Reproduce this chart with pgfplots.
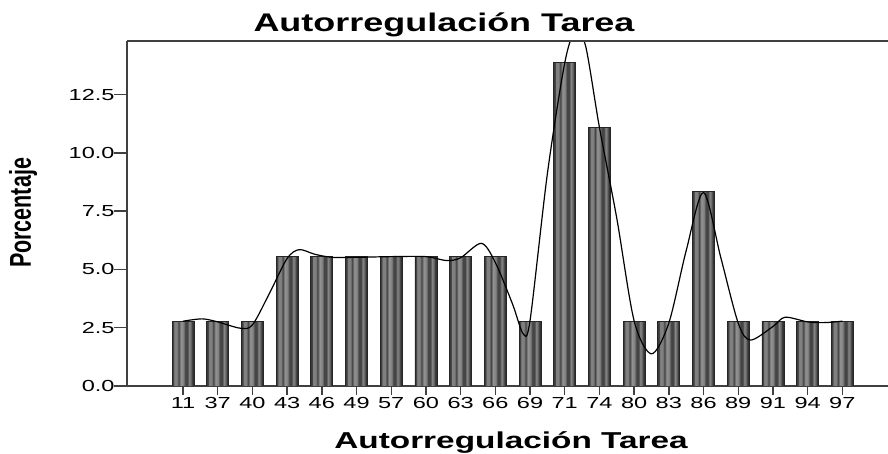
\documentclass[border=0pt]{standalone}
\usepackage{fontspec}
\setmainfont{Liberation Sans}
\newfontfamily\tickfont[FakeStretch=1.47]{Liberation Sans}
\newfontfamily\titlefont[FakeStretch=1.41]{Liberation Sans}
\newfontfamily\xlabfont[FakeStretch=1.45]{Liberation Sans}
\usepackage{graphicx}
\usepackage{pgfplots}
\pgfplotsset{compat=1.18}
\definecolor{axiscol}{gray}{0.25}
\definecolor{g20}{gray}{0.18}
\definecolor{g25}{gray}{0.22}
\definecolor{g30}{gray}{0.27}
\definecolor{g45}{gray}{0.40}
\definecolor{g55}{gray}{0.50}
\definecolor{g58}{gray}{0.53}
\definecolor{g60}{gray}{0.58}
\pgfdeclarehorizontalshading{barstripes}{100bp}{color(0bp)=(g25); color(25bp)=(g25); color(28bp)=(g30); color(30bp)=(g55); color(36bp)=(g55); color(40bp)=(g30); color(45bp)=(g60); color(51bp)=(g55); color(55bp)=(g30); color(60bp)=(g30); color(64bp)=(g58); color(68bp)=(g45); color(71bp)=(g25); color(75bp)=(g20); color(100bp)=(g20)}
\pgfplotstableread{
x y
0 2.78
0.55 2.88
1 2.75
1.65 2.48
2 2.62
2.5 4.0
3 5.47
3.35 5.85
3.8 5.65
4.3 5.52
5 5.52
6 5.55
7 5.55
7.6 5.38
8 5.5
8.6 6.12
9 5.3
9.5 3.5
9.8 2.25
10 2.8
10.5 9.1
11 13.85
11.3 15.2
11.6 14.6
12 11.1
12.5 7.2
13 2.8
13.5 1.38
14 2.7
14.5 5.8
15 8.3
15.5 5.5
16 2.7
16.35 1.97
17 2.55
17.35 2.95
18 2.75
18.5 2.72
19 2.78
}\curve
\begin{document}
\begin{tikzpicture}
\path[use as bounding box] (0,0) rectangle (888bp,454bp);
\begin{axis}[
  at={(127bp,68bp)}, anchor=south west,
  scale only axis, width=761bp, height=345bp,
  xmin=-1.614, xmax=20.317, ymin=0, ymax=14.8,
  axis lines=left,
  axis line style={-, axiscol, line width=1.6bp},
  tick align=outside,
  major tick length=9bp,
  tick style={axiscol, line width=1.4bp},
  ytick style={/pgfplots/major tick length=13bp},
  xtick={0,...,19},
  xticklabels={11,37,40,43,46,49,57,60,63,66,69,71,74,80,83,86,89,91,94,97},
  ytick={0,2.5,5,7.5,10,12.5},
  /pgf/number format/assume math mode=true,
  ticklabel style={font=\tickfont\fontsize{16bp}{17bp}\selectfont, text=black},
  yticklabel style={/pgf/number format/.cd, fixed, fixed zerofill, precision=1},
  xticklabel style={yshift=1bp},
  barsty/.style={ybar, bar width=22bp, bar shift=0pt, draw=black!85, line width=0.7bp, shade, shading=barstripes},
]
\addplot[barsty] coordinates {(0,2.78)};
\addplot[barsty] coordinates {(1,2.78)};
\addplot[barsty] coordinates {(2,2.78)};
\addplot[barsty] coordinates {(3,5.56)};
\addplot[barsty] coordinates {(4,5.56)};
\addplot[barsty] coordinates {(5,5.56)};
\addplot[barsty] coordinates {(6,5.56)};
\addplot[barsty] coordinates {(7,5.56)};
\addplot[barsty] coordinates {(8,5.56)};
\addplot[barsty] coordinates {(9,5.56)};
\addplot[barsty] coordinates {(10,2.78)};
\addplot[barsty] coordinates {(11,13.89)};
\addplot[barsty] coordinates {(12,11.11)};
\addplot[barsty] coordinates {(13,2.78)};
\addplot[barsty] coordinates {(14,2.78)};
\addplot[barsty] coordinates {(15,8.33)};
\addplot[barsty] coordinates {(16,2.78)};
\addplot[barsty] coordinates {(17,2.78)};
\addplot[barsty] coordinates {(18,2.78)};
\addplot[barsty] coordinates {(19,2.78)};
\addplot[black, line width=1.2bp, smooth, mark=none] table[x=x,y=y] {\curve};
\draw[axiscol, line width=1.6bp] (rel axis cs:0,1) -- (rel axis cs:1,1);
\end{axis}
\node[anchor=base, font=\titlefont\bfseries\fontsize{25.5bp}{28bp}\selectfont] at (444bp,422bp) {Autorregulación Tarea};
\node[anchor=base, font=\xlabfont\bfseries\fontsize{23bp}{26bp}\selectfont] at (511bp,6bp) {Autorregulación Tarea};
\node[anchor=base, rotate=90, font=\bfseries\fontsize{21.5bp}{24bp}\selectfont] at (31bp,241bp) {\scalebox{1}[1.4]{Porcentaje}};
\end{tikzpicture}
\end{document}
